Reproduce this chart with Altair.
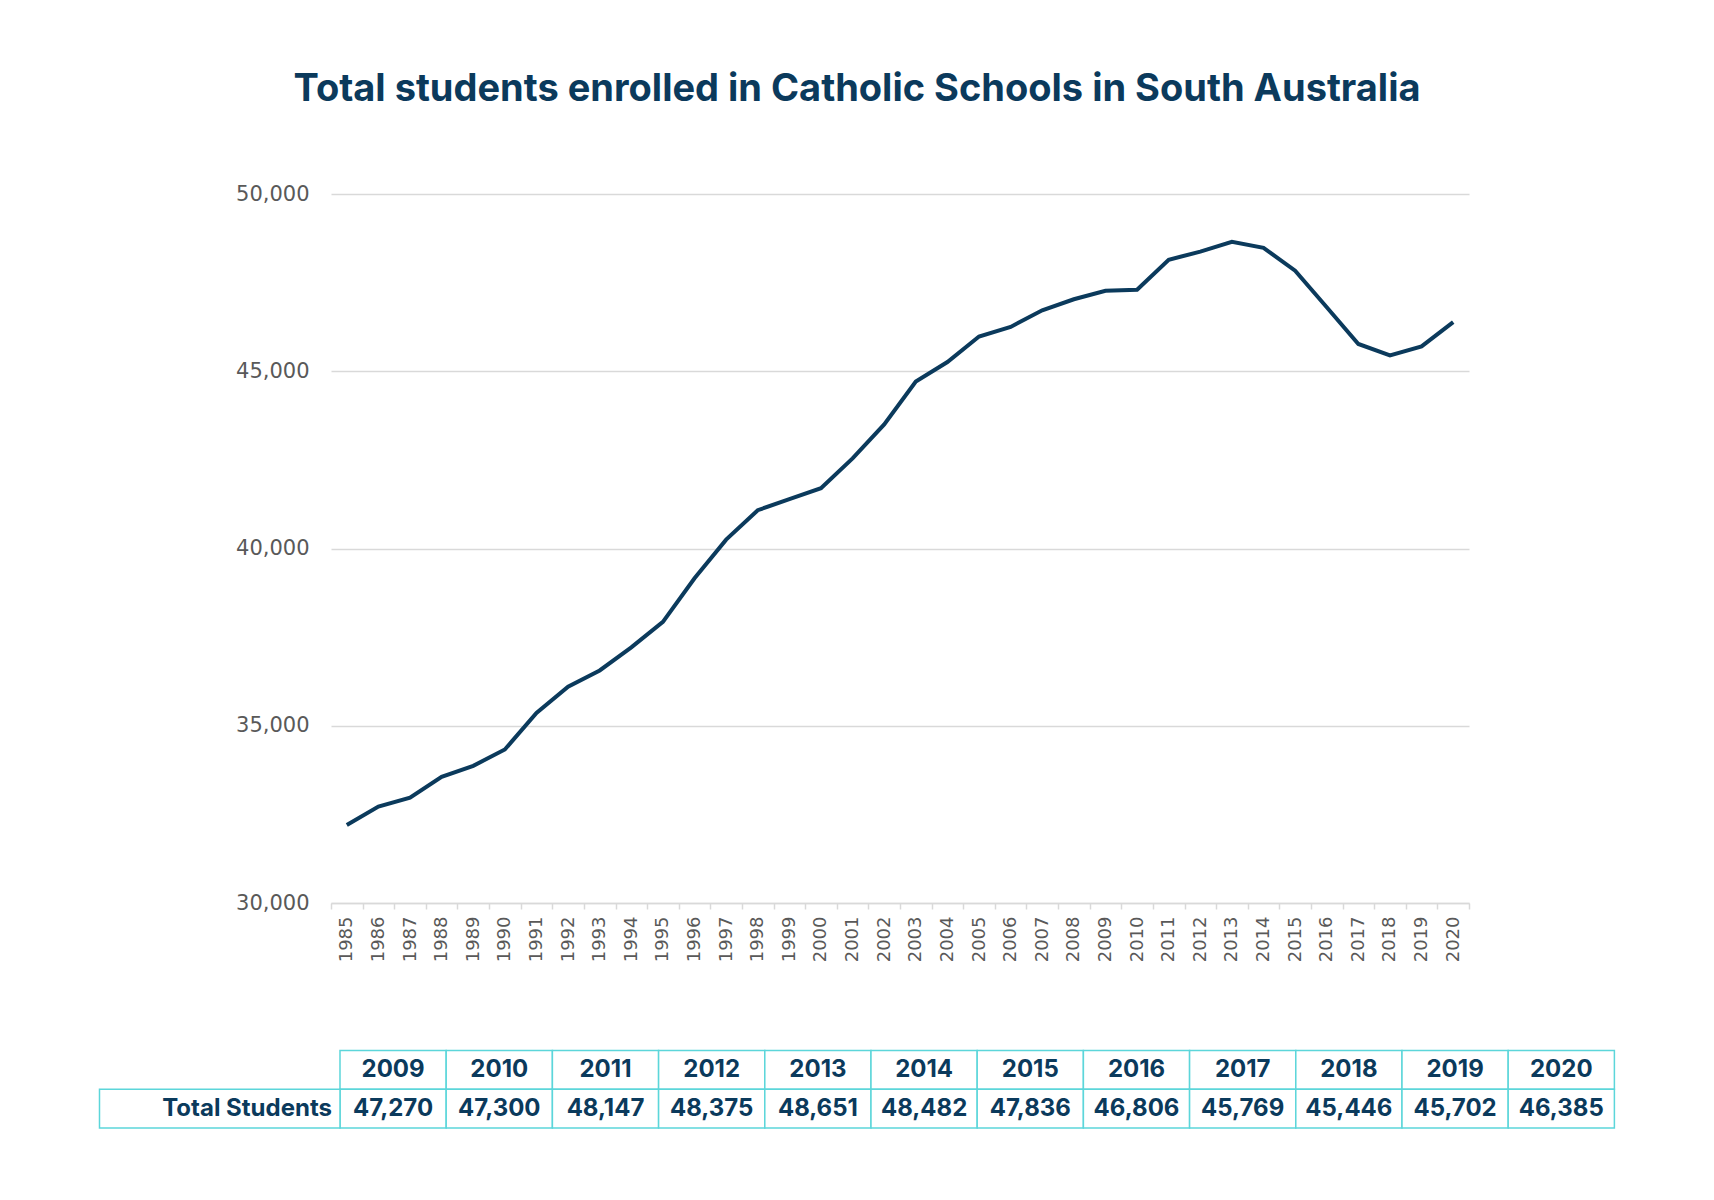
import altair as alt
import pandas as pd

years = [str(y) for y in range(1985, 2021)]
students = [
    32200, 32720, 32970, 33560, 33870, 34330, 35360, 36100, 36560, 37210,
    37930, 39160, 40250, 41080, 41390, 41700, 42540, 43500, 44710, 45260,
    45980, 46250, 46720, 47030,
    47270, 47300, 48147, 48375, 48651, 48482, 47836, 46806, 45769, 45446, 45702, 46385,
]
table_years = years[-12:]
table_values = students[-12:]
row_label = "Total Students"
y_ticks = [30000, 35000, 40000, 45000, 50000]

NAVY = "#0b3a5c"
TEAL = "#5cd6da"
GRID = "#d9d9d9"
LABEL = "#595959"

line_df = pd.DataFrame({"year": years, "students": students})

line = alt.Chart(line_df).mark_line(color=NAVY, strokeWidth=4).encode(
    x=alt.X(
        "year:O",
        bandPosition=0.5,
        scale=alt.Scale(type="band", paddingInner=0, paddingOuter=0),
        axis=alt.Axis(
            title=None, labelAngle=270, tickBand="extent", grid=False,
            domainColor=GRID, tickColor=GRID, tickSize=6, domainWidth=1.5, tickWidth=1.5,
            labelColor=LABEL, labelFont="DejaVu Sans", labelFontSize=18,
            labelPadding=7,
        ),
    ),
    y=alt.Y(
        "students:Q",
        scale=alt.Scale(domain=[30000, 50000], nice=False, zero=False),
        axis=alt.Axis(
            title=None, values=y_ticks, format=",.0f", domain=False, ticks=False,
            gridColor=GRID, gridWidth=1.5, labelColor=LABEL,
            labelFont="DejaVu Sans", labelFontSize=21, labelPadding=22,
        ),
    ),
)

# Table data
cells = []
for i, yr in enumerate(table_years):
    cells.append({"x0": i, "x1": i + 1, "y0": 0, "y1": -1})
    cells.append({"x0": i, "x1": i + 1, "y0": -1, "y1": -2})
cells.append({"x0": -2.2646, "x1": 0, "y0": -1, "y1": -2})
cells_df = pd.DataFrame(cells)

texts = []
for i, (yr, v) in enumerate(zip(table_years, table_values)):
    texts.append({"xc": i + 0.5, "yc": -0.5, "t": yr})
    texts.append({"xc": i + 0.5, "yc": -1.5, "t": f"{v:,}"})
texts_df = pd.DataFrame(texts)
label_df = pd.DataFrame({"xc": [0], "yc": [-1.5], "t": [row_label]})

tx = alt.Scale(domain=[-0.0847, 10.631], nice=False, zero=False)
ty = alt.Scale(domain=[3.806, 22.103], nice=False, zero=False)

rects = alt.Chart(cells_df).mark_rect(fill="white", stroke=TEAL, strokeWidth=1.5).encode(
    x=alt.X("x0:Q", scale=tx, axis=None),
    x2="x1:Q",
    y=alt.Y("y0:Q", scale=ty, axis=None),
    y2="y1:Q",
)
cell_text = alt.Chart(texts_df).mark_text(
    font="Inter", fontWeight="bold", fontSize=24, color=NAVY, baseline="middle", align="center"
).encode(
    x=alt.X("xc:Q", scale=tx, axis=None),
    y=alt.Y("yc:Q", scale=ty, axis=None),
    text="t:N",
)
label_text = alt.Chart(label_df).mark_text(
    font="Inter", fontWeight="bold", fontSize=24, color=NAVY, baseline="middle", align="right", dx=-8
).encode(
    x=alt.X("xc:Q", scale=tx, axis=None),
    y=alt.Y("yc:Q", scale=ty, axis=None),
    text="t:N",
)
table = alt.layer(rects, cell_text, label_text)

chart = alt.layer(line, table).resolve_scale(x="independent", y="independent").properties(
    width=1138,
    height=709,
    title=alt.TitleParams(
        "Total students enrolled in Catholic Schools in South Australia",
        font="Inter", fontWeight="bold", fontSize=38, color=NAVY,
        anchor="middle", dx=-43, offset=74,
    ),
    autosize=alt.AutoSizeParams(type="none"),
    padding={"left": 323, "top": 186, "right": 230, "bottom": 260},
).configure_view(stroke=None)

chart.save("out.html", embed_options={"renderer": "svg", "actions": False})
